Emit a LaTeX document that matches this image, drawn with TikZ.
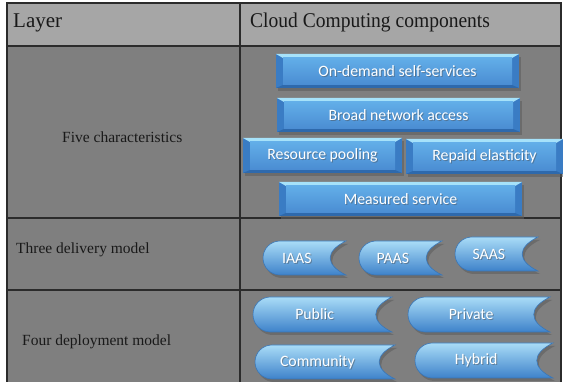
\documentclass[tikz,border=0pt]{standalone}
\usepackage{fontspec}
\setmainfont{Liberation Serif}
\newfontfamily\btnfont{Carlito}
\usetikzlibrary{calc}
\definecolor{hdrgray}{HTML}{A6A6A6}
\definecolor{bodygray}{HTML}{7F7F7F}
\definecolor{linec}{HTML}{2B2B2B}
\definecolor{bevtopc}{HTML}{A6E2FA}
\definecolor{bevsidec}{HTML}{3A7CC4}
\definecolor{bevbotc}{HTML}{2E69AC}
\definecolor{facetop}{HTML}{62AEE8}
\definecolor{facebot}{HTML}{4A8CD2}
\definecolor{tabtop}{HTML}{A9DCF7}
\definecolor{tabmid}{HTML}{62A8E2}
\definecolor{tabbot}{HTML}{3E82CA}
\definecolor{tabedge}{HTML}{3A76B6}
\definecolor{shadowc}{HTML}{5E5E5E}
\tikzset{
  gridline/.style={draw=linec, line width=1.3pt},
  lbltxt/.style={anchor=base west, inner sep=0pt, font=\fontsize{15.5}{18}\selectfont, text=black!90},
  hdrtxt/.style={anchor=base west, inner sep=0pt, font=\fontsize{21}{24}\selectfont, text=black!90},
  btxt/.style={inner sep=0pt, text=white, font=\btnfont\fontsize{15.8}{18}\selectfont},
  bshadow/.style={inner sep=0pt, text=black!70, opacity=0.45, font=\btnfont\fontsize{15.8}{18}\selectfont},
}
% bevelled rectangle button: name, x1, y1, x2, y2, text
\newcommand\bevbox[6]{%
  \fill[shadowc, opacity=0.6] (#2+2,#3+3) rectangle (#4+2,#5+3);
  \fill[bevsidec] (#2,#3) rectangle (#4,#5);
  \fill[bevtopc] (#2,#3) -- (#4,#3) -- (#4-7,#3+4) -- (#2+7,#3+4) -- cycle;
  \fill[bevbotc] (#2,#5) -- (#4,#5) -- (#4-7,#5-3) -- (#2+7,#5-3) -- cycle;
  \shade[top color=facetop, bottom color=facebot] (#2+7,#3+4) rectangle (#4-7,#5-3);
  \node[bshadow] (#1s) at ({(#2+#4)/2+1},{(#3+#5)/2+1}) {#6};
  \node[btxt] (#1) at ({(#2+#4)/2},{(#3+#5)/2}) {#6};
}
% tab button with round left end and concave right end
\newcommand\tabbtn[6]{%
  \fill[shadowc, opacity=0.6, shift={(2,3)}]
     ({#2+(#5-#3)/2},#3) -- (#4,#3)
     .. controls (#4-0.62*#5+0.62*#3,{#3+0.3*(#5-#3)}) and (#4-0.62*#5+0.62*#3,{#5-0.3*(#5-#3)}) .. (#4,#5)
     -- ({#2+(#5-#3)/2},#5) arc[start angle=90, end angle=270, radius={(#5-#3)/2}] -- cycle;
  \shade[top color=tabtop, middle color=tabmid, bottom color=tabbot, draw=tabedge, line width=0.6pt]
     ({#2+(#5-#3)/2},#3) -- (#4,#3)
     .. controls (#4-0.62*#5+0.62*#3,{#3+0.3*(#5-#3)}) and (#4-0.62*#5+0.62*#3,{#5-0.3*(#5-#3)}) .. (#4,#5)
     -- ({#2+(#5-#3)/2},#5) arc[start angle=90, end angle=270, radius={(#5-#3)/2}] -- cycle;
  \node[bshadow] (#1s) at ({(#2+#4-0.45*(#5-#3))/2+1},{(#3+#5)/2+1}) {#6};
  \node[btxt] (#1) at ({(#2+#4-0.45*(#5-#3))/2},{(#3+#5)/2}) {#6};
}
\begin{document}
\begin{tikzpicture}[x=1pt, y=-1pt]
\useasboundingbox (0,0) rectangle (563,382);
\fill[white] (0,0) rectangle (563,382);
% cells
\fill[hdrgray] (7,3) rectangle (561,46);
\fill[bodygray] (7,46) rectangle (561,382);
% grid lines
\draw[gridline] (7,382) -- (7,3) -- (561,3) -- (561,382);
\draw[gridline] (7,46) -- (561,46);
\draw[gridline] (7,218) -- (561,218);
\draw[gridline] (7,290) -- (561,290);
\draw[gridline] (240,3) -- (240,382);
% header texts
\node[hdrtxt] (hl) at (13,28) {Layer};
\node[hdrtxt] (hr) at (250,28) {\scalebox{0.93}[1]{Cloud Computing components}};
% layer labels
\node[lbltxt] (l1) at (62,143) {Five characteristics};
\node[lbltxt] (l2) at (16,254) {Three delivery model};
\node[lbltxt] (l3) at (22,346) {Four deployment model};
% five characteristics
\bevbox{b1}{276}{54}{519}{88}{On-demand self-services}
\bevbox{b2}{277}{98}{520}{132}{Broad network access}
\bevbox{b3}{243}{138}{402}{173}{Resource pooling}
\bevbox{b4}{406}{139}{563}{174}{Repaid elasticity}
\bevbox{b5}{279}{182}{522}{216}{Measured service}
% delivery models
\tabbtn{t1}{263}{241}{346}{275}{IAAS}
\tabbtn{t2}{359}{241}{442}{275}{PAAS}
\tabbtn{t3}{455}{237}{538}{271}{SAAS}
% deployment models
\tabbtn{d1}{253}{297}{392}{332}{Public}
\tabbtn{d2}{408}{297}{550}{332}{Private}
\tabbtn{d3}{255}{345}{395}{379}{Community}
\tabbtn{d4}{415}{343}{553}{378}{Hybrid}
\end{tikzpicture}
\end{document}
